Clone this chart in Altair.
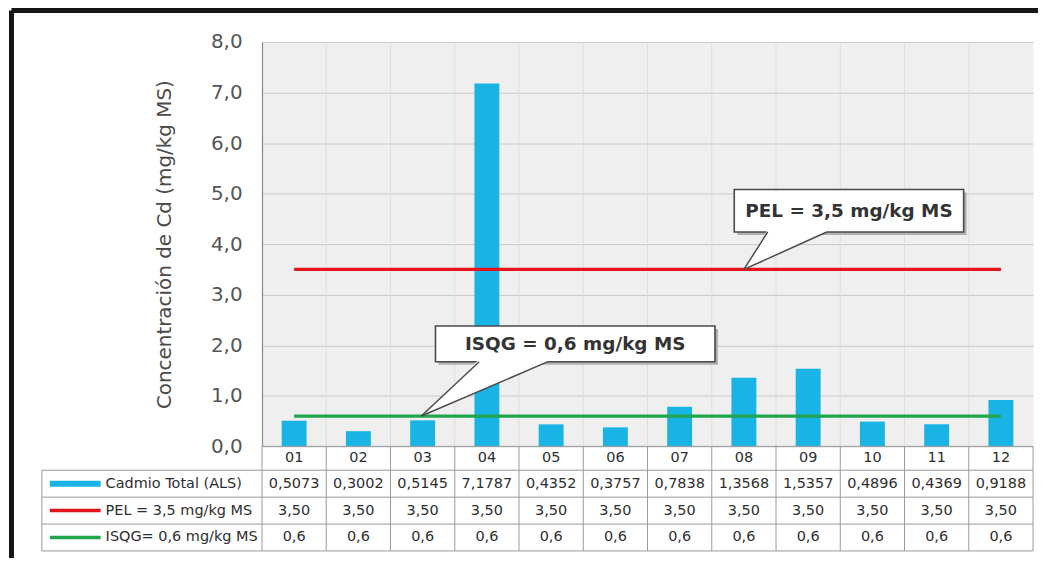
import altair as alt
import pandas as pd

# ---------------- data ----------------
categories = ["01", "02", "03", "04", "05", "06", "07", "08", "09", "10", "11", "12"]
cadmio_total = [0.5073, 0.3002, 0.5145, 7.1787, 0.4352, 0.3757, 0.7838, 1.3568, 1.5357, 0.4896, 0.4369, 0.9188]
pel_values = [3.50, 3.50, 3.50, 3.50, 3.50, 3.50, 3.50, 3.50, 3.50, 3.50, 3.50, 3.50]
isqg_values = [0.6, 0.6, 0.6, 0.6, 0.6, 0.6, 0.6, 0.6, 0.6, 0.6, 0.6, 0.6]
series_names = ["Cadmio Total (ALS)", "PEL = 3,5 mg/kg MS", "ISQG= 0,6 mg/kg MS"]
series_formats = [".4f", ".2f", ".1f"]
y_ticks = [0, 1, 2, 3, 4, 5, 6, 7, 8]
y_title = "Concentración de Cd (mg/kg MS)"
callout_texts = ["ISQG = 0,6 mg/kg MS", "PEL = 3,5 mg/kg MS"]
callout_levels = [0.6, 3.5]

# ---------------- layout / style ----------------
W, H = 774, 406
PAD = {"left": 255, "top": 33, "right": 5, "bottom": 111}
XU = W / 12.0      # px per x unit (one category column)
YU = H / 8.0       # px per y unit
FONT = "DejaVu Sans"
C_BAR, C_PEL, C_ISQG = "#1ab3e6", "#e5141b", "#1fa54c"
GRID = "#c9c9c9"
TABLE_LINE = "#9a9a9a"
TEXT = "#2e2e2e"

xscale = alt.Scale(domain=[0, 12], nice=False, zero=False)
yscale = alt.Scale(domain=[0, 8], nice=False, zero=False)
yaxis = alt.Axis(
    values=y_ticks,
    labelExpr="replace(format(datum.value, '.1f'), '.', ',')",
    title=y_title,
    grid=True, gridColor=GRID, gridWidth=1,
    ticks=False, tickSize=0, labelPadding=20,
    domain=True, domainColor="#8a8a8a", domainWidth=1.2,
    labelFont=FONT, labelFontSize=20, labelColor="#555555",
    titleFont=FONT, titleFontSize=20, titleFontWeight="normal", titleColor="#4a4a4a",
    titlePadding=36,
)


def X(f):
    return alt.X(f"{f}:Q", scale=xscale, axis=None)


def Y(f):
    return alt.Y(f"{f}:Q", scale=yscale, axis=yaxis)


centers = [i + 0.5 for i in range(len(categories))]

# vertical faint grid at category boundaries
vgrid_df = pd.DataFrame({"x": list(range(1, 12)), "y": 0.0, "y2": 8.0})
vgrid = alt.Chart(vgrid_df).mark_rule(color="#dedede", strokeWidth=1).encode(
    x=X("x"), y=Y("y"), y2=alt.Y2("y2"))

# bars
half = 12.5 / XU
bars_df = pd.DataFrame({"cat": categories, "x": [c - half for c in centers],
                        "x2": [c + half for c in centers], "v": cadmio_total, "z": 0.0})
bars = alt.Chart(bars_df).mark_rect(color=C_BAR).encode(
    x=X("x"), x2=alt.X2("x2"), y=Y("v"), y2=alt.Y2("z"))

# reference lines
pel_df = pd.DataFrame({"x": centers, "v": pel_values})
isqg_df = pd.DataFrame({"x": centers, "v": isqg_values})
pel_line = alt.Chart(pel_df).mark_line(color=C_PEL, strokeWidth=3.2).encode(x=X("x"), y=Y("v"))
isqg_line = alt.Chart(isqg_df).mark_line(color=C_ISQG, strokeWidth=3.2).encode(x=X("x"), y=Y("v"))

# ---------------- callouts ----------------
# box (x0, x1, ybottom, ytop), pointer base xs and tip x, in data units
boxes = [
    dict(x0=2.70, x1=7.05, yb=1.675, yt=2.38, bx=3.38, cx=4.45, tx=2.48, ty=callout_levels[0], text=callout_texts[0]),
    dict(x0=7.35, x1=10.92, yb=4.24, yt=5.08, bx=7.87, cx=8.79, tx=7.50, ty=callout_levels[1], text=callout_texts[1]),
]
sx, sy = 3.0 / XU, 3.0 / YU
shadow_df = pd.DataFrame([{"x0": b["x0"] + sx, "x1": b["x1"] + sx, "yb": b["yb"] - sy, "yt": b["yt"] - sy} for b in boxes])
box_df = pd.DataFrame([{k: b[k] for k in ("x0", "x1", "yb", "yt")} for b in boxes])
shadow = alt.Chart(shadow_df).mark_rect(color="#b0b0b0").encode(
    x=X("x0"), x2=alt.X2("x1"), y=Y("yb"), y2=alt.Y2("yt"))
box = alt.Chart(box_df).mark_rect(fill="white", stroke="#4a4a4a", strokeWidth=1.6).encode(
    x=X("x0"), x2=alt.X2("x1"), y=Y("yb"), y2=alt.Y2("yt"))

tri_rows, edge_rows = [], []
for k, b in enumerate(boxes):
    top = b["yb"] + 2.5 / YU
    low_at_b = b["ty"] + (b["bx"] - b["tx"]) / (b["cx"] - b["tx"]) * (b["yb"] - b["ty"])
    tri_rows += [
        {"id": k, "x": b["tx"], "y": b["ty"], "y2": b["ty"]},
        {"id": k, "x": b["bx"], "y": low_at_b, "y2": top},
        {"id": k, "x": b["cx"], "y": b["yb"], "y2": top},
    ]
    edge_rows += [
        {"x": b["bx"], "y": b["yb"], "x2": b["tx"], "y2": b["ty"]},
        {"x": b["cx"], "y": b["yb"], "x2": b["tx"], "y2": b["ty"]},
    ]
tri = alt.Chart(pd.DataFrame(tri_rows)).mark_area(fill="white", opacity=1).encode(
    x=X("x"), y=Y("y"), y2=alt.Y2("y2"), detail="id:N")
edges = alt.Chart(pd.DataFrame(edge_rows)).mark_rule(color="#4a4a4a", strokeWidth=1.5).encode(
    x=X("x"), y=Y("y"), x2=alt.X2("x2"), y2=alt.Y2("y2"))
ctext_df = pd.DataFrame([{"x": (b["x0"] + b["x1"]) / 2, "y": (b["yb"] + b["yt"]) / 2, "t": b["text"]} for b in boxes])
ctext = alt.Chart(ctext_df).mark_text(font=FONT, fontSize=18.5, fontWeight="bold", color="#333333",
                                      baseline="middle", align="center").encode(
    x=X("x"), y=Y("y"), text="t:N")

# ---------------- data table below the plot ----------------
row_edges = [0.0, -24 / YU, -51 / YU, -78 / YU, -105 / YU]
table_left = -221 / XU

hlines = [{"x": 0.0, "x2": 12.0, "y": row_edges[0]}] + \
         [{"x": table_left, "x2": 12.0, "y": r} for r in row_edges[1:]]
vlines = [{"x": float(i), "y": row_edges[0], "y2": row_edges[-1]} for i in range(13)] + \
         [{"x": table_left, "y": row_edges[1], "y2": row_edges[-1]}]
hl = alt.Chart(pd.DataFrame(hlines)).mark_rule(color=TABLE_LINE, strokeWidth=1).encode(
    x=X("x"), x2=alt.X2("x2"), y=Y("y"))
vl = alt.Chart(pd.DataFrame(vlines)).mark_rule(color=TABLE_LINE, strokeWidth=1).encode(
    x=X("x"), y=Y("y"), y2=alt.Y2("y2"))

header_df = pd.DataFrame({"x": centers, "y": (row_edges[0] + row_edges[1]) / 2, "t": categories})
header = alt.Chart(header_df).mark_text(font=FONT, fontSize=14.5, color=TEXT, baseline="middle").encode(
    x=X("x"), y=Y("y"), text="t:N")

cell_rows = []
for r, (vals, fmt) in enumerate(zip([cadmio_total, pel_values, isqg_values], series_formats)):
    yc = (row_edges[r + 1] + row_edges[r + 2]) / 2
    for c, v in zip(centers, vals):
        cell_rows.append({"x": c, "y": yc, "t": format(v, fmt).replace(".", ",")})
cells = alt.Chart(pd.DataFrame(cell_rows)).mark_text(font=FONT, fontSize=14.5, color=TEXT, baseline="middle").encode(
    x=X("x"), y=Y("y"), text="t:N")

sw_rows, lab_rows = [], []
for r, (name, col, w) in enumerate(zip(series_names, [C_BAR, C_PEL, C_ISQG], [6, 3.5, 3.5])):
    yc = (row_edges[r + 1] + row_edges[r + 2]) / 2
    sw_rows.append({"x": -213 / XU, "x2": -162 / XU, "y": yc, "c": col, "w": w})
    lab_rows.append({"x": -157 / XU, "y": yc, "t": name})
swatch = alt.Chart(pd.DataFrame(sw_rows)).mark_rule().encode(
    x=X("x"), x2=alt.X2("x2"), y=Y("y"),
    color=alt.Color("c:N", scale=None), strokeWidth=alt.StrokeWidth("w:Q", scale=None))
labels = alt.Chart(pd.DataFrame(lab_rows)).mark_text(font=FONT, fontSize=14.5, color=TEXT,
                                                     align="left", baseline="middle").encode(
    x=X("x"), y=Y("y"), text="t:N")

# ---------------- outer frame (top and left thick lines) ----------------
f_left = -251.5 / XU
f_top = 8 + 31.5 / YU
frame_df = pd.DataFrame([
    {"x": f_left, "x2": (W + 12) / XU, "y": f_top, "y2": f_top},
    {"x": f_left, "x2": f_left, "y": f_top, "y2": -(PAD["bottom"] + 10) / YU},
])
frame = alt.Chart(frame_df).mark_rule(color="#151515", strokeWidth=5).encode(
    x=X("x"), x2=alt.X2("x2"), y=Y("y"), y2=alt.Y2("y2"))

chart = alt.layer(
    vgrid, bars, isqg_line, pel_line,
    shadow, box, tri, edges, ctext,
    hl, vl, header, cells, swatch, labels, frame,
).properties(
    width=W, height=H, padding=PAD, autosize="none", background="white",
).configure_view(fill="#efefef", stroke="transparent")

chart.save("out.html", embed_options={"renderer": "svg", "actions": False})
